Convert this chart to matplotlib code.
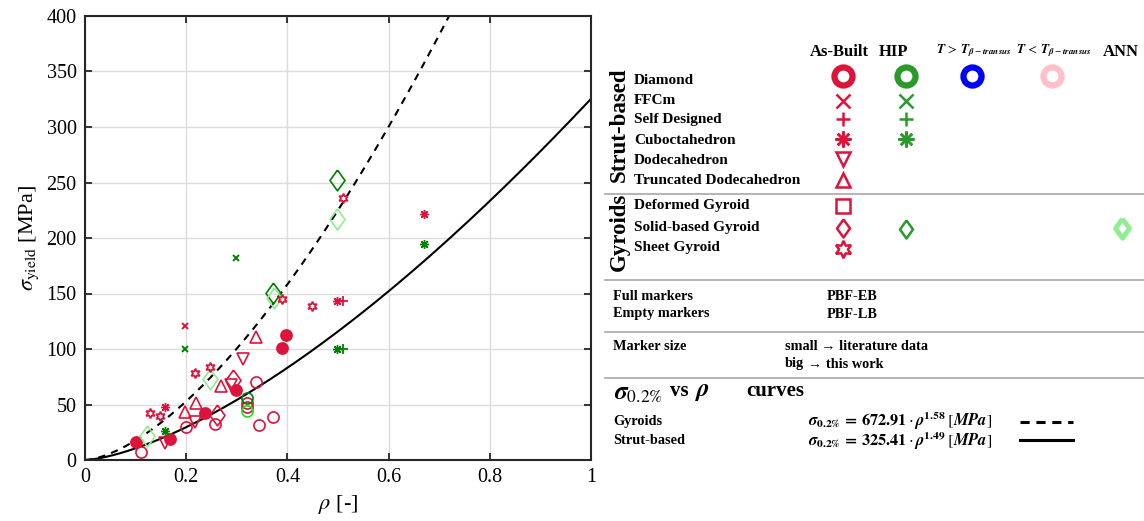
import numpy as np
import matplotlib as mpl

mpl.use('Agg')

import matplotlib.pyplot as plt

#
#--- fonts: times-like serif everywhere, stix for the math
#
plt.rcParams['font.family']      = ['Liberation Serif', 'DejaVu Serif']
plt.rcParams['mathtext.fontset'] = 'stix'

#
#--- colors
#
red    = '#DC143C'
green  = '#008000'
lgreen = '#90EE90'
lime   = '#22DD22'
lggrn  = '#2a9a2a'

#
#--- data (rho [-], sigma_yield [MPa])
#
dia_lb_rho   = [0.11, 0.20, 0.257, 0.338, 0.343, 0.372, 0.32, 0.32]
dia_lb_sig   = [7.5, 30.0, 32.0, 70.5, 31.5, 38.5, 51.0, 48.0]
dia_eb_rho   = [0.10, 0.168, 0.238, 0.298, 0.389, 0.398]
dia_eb_sig   = [16.5, 19.0, 42.5, 63.0, 101.0, 113.0]
dia_hip_rho  = [0.32]
dia_hip_sig  = [55.5]
dia_hip2_rho = [0.32]
dia_hip2_sig = [44.5]

ffc_ab_rho   = [0.198]
ffc_ab_sig   = [121.0]
ffc_hip_rho  = [0.198, 0.298]
ffc_hip_sig  = [100.0, 182.0]

self_ab_rho  = [0.509]
self_ab_sig  = [143.0]
self_hip_rho = [0.509]
self_hip_sig = [100.0]

cub_ab_rho   = [0.158, 0.499, 0.669]
cub_ab_sig   = [48.0, 143.0, 222.0]
cub_hip_rho  = [0.158, 0.499, 0.669]
cub_hip_sig  = [26.0, 100.0, 195.0]

dod_rho      = [0.158, 0.217, 0.289, 0.313]
dod_sig      = [15.0, 34.5, 68.0, 91.0]
tdod_rho     = [0.198, 0.219, 0.268, 0.338]
tdod_sig     = [43.5, 51.0, 67.0, 111.0]

sgy_ab_rho   = [0.261, 0.293]
sgy_ab_sig   = [40.5, 72.5]
sgy_hip_rho  = [0.372, 0.499]
sgy_hip_sig  = [150.5, 252.5]
sgy_ann_rho  = [0.123, 0.248, 0.374, 0.499]
sgy_ann_sig  = [21.5, 73.0, 146.0, 217.0]

shg_rho      = [0.128, 0.148, 0.217, 0.248, 0.390, 0.449, 0.509]
shg_sig      = [42.5, 39.5, 78.0, 84.0, 145.0, 139.0, 236.0]

#
#--- fitted power laws  sigma = c * rho^n
#
gyr_coef   = [672.91, 1.58]
strut_coef = [325.41, 1.49]

#
#--- custom markers
#
diamond  = [(0, 1), (0.72, 0), (0, -1), (-0.72, 0), (0, 1)]
asterisk = (8, 2, 0)
hexagram = (6, 1, 0)

#---------------------------------------------------------------------------------------------------
#-- draw_series: plot one marker series                                                          ---
#---------------------------------------------------------------------------------------------------

def draw_series(ax, x, y, marker, color, size, filled=False, lw=1.2):

    """
    plot one marker series
    Input:  ax      --- axes
            x, y    --- data
            marker  --- marker
            color   --- color
            size    --- marker size
            filled  --- fill the marker or not
    """

    if filled:
        face = color
    else:
        face = 'none'
    ax.plot(x, y, linestyle='none', marker=marker, markersize=size,
            markerfacecolor=face, markeredgecolor=color, markeredgewidth=lw)


#---------------------------------------------------------------------------------------------------
#-- main plot                                                                                    ---
#---------------------------------------------------------------------------------------------------

fig = plt.figure(figsize=(11.44, 5.21), dpi=100)
ax  = fig.add_axes([85 / 1144, 1 - 460 / 521, 506 / 1144, 444 / 521])

#
#--- fitted curves
#
rr = np.linspace(0, 1, 300)
ax.plot(rr, gyr_coef[0] * rr ** gyr_coef[1], color='black', lw=1.5, ls=(0, (3.5, 3)))
ax.plot(rr, strut_coef[0] * rr ** strut_coef[1], color='black', lw=1.5)

#
#--- data
#
draw_series(ax, dia_lb_rho, dia_lb_sig, 'o', red, 8)
draw_series(ax, dia_eb_rho, dia_eb_sig, 'o', red, 8, filled=True)
draw_series(ax, dia_hip_rho, dia_hip_sig, 'o', green, 8)
draw_series(ax, dia_hip2_rho, dia_hip2_sig, 'o', lime, 8)

draw_series(ax, ffc_ab_rho, ffc_ab_sig, 'x', red, 4.5, lw=1.4)
draw_series(ax, ffc_hip_rho, ffc_hip_sig, 'x', green, 4.5, lw=1.4)
draw_series(ax, self_ab_rho, self_ab_sig, '+', red, 7, lw=1.3)
draw_series(ax, self_hip_rho, self_hip_sig, '+', green, 7, lw=1.3)
draw_series(ax, cub_ab_rho, cub_ab_sig, asterisk, red, 6.5, lw=1.0)
draw_series(ax, cub_hip_rho, cub_hip_sig, asterisk, green, 6.5, lw=1.0)

draw_series(ax, dod_rho, dod_sig, 'v', red, 8.5)
draw_series(ax, tdod_rho, tdod_sig, '^', red, 8.5)

draw_series(ax, sgy_ab_rho, sgy_ab_sig, diamond, red, 15)
draw_series(ax, sgy_hip_rho, sgy_hip_sig, diamond, green, 15)
draw_series(ax, sgy_ann_rho, sgy_ann_sig, diamond, lgreen, 15)

draw_series(ax, shg_rho, shg_sig, hexagram, red, 7, lw=1.3)

#
#--- axes set up
#
ax.set_xlim(0, 1)
ax.set_ylim(0, 400)
ax.set_xticks(np.arange(0, 1.01, 0.2))
ax.set_xticklabels(['0', '0.2', '0.4', '0.6', '0.8', '1'])
ax.set_yticks(np.arange(0, 401, 50))
ax.grid(True, color='#dcdcdc', lw=1.0)
ax.set_axisbelow(True)
ax.tick_params(direction='in', top=True, right=True, length=5, width=1.3,
               labelsize=14.5, color='#262626', pad=6)
for sp in ax.spines.values():
    sp.set_linewidth(1.5)
    sp.set_color('#262626')

ax.set_xlabel(r'$\rho$ [-]', fontsize=16, labelpad=4)
ax.set_ylabel(r'$\sigma_{\rm yield}$ [MPa]', fontsize=16, labelpad=4)

#---------------------------------------------------------------------------------------------------
#-- legend panel: drawn in pixel coordinates                                                     ---
#---------------------------------------------------------------------------------------------------

lg = fig.add_axes([0, 0, 1, 1], facecolor='none')
lg.set_xlim(0, 1144)
lg.set_ylim(521, 0)
lg.axis('off')

bold = dict(fontweight='bold', va='center')

#
#--- column headers
#
lg.text(839, 52, 'As-Built', ha='center', fontsize=12, **bold)
lg.text(894, 52, 'HIP', ha='center', fontsize=12, **bold)
lg.text(974, 51, r'$\mathbfit{T}\,>\,\mathbfit{T}_{\mathbfit{\beta}-\mathbfit{transus}}$',
        ha='center', va='center', fontsize=9.5)
lg.text(1054, 51, r'$\mathbfit{T}\,<\,\mathbfit{T}_{\mathbfit{\beta}-\mathbfit{transus}}$',
        ha='center', va='center', fontsize=9.5)
lg.text(1121, 52, 'ANN', ha='center', fontsize=12, **bold)

#
#--- group labels
#
lg.text(619, 125, 'Strut-based', rotation=90, ha='center', fontsize=16.5, **bold)
lg.text(619, 232, 'Gyroids', rotation=90, ha='center', fontsize=16.5, **bold)

#
#--- rows
#
rows  = ['Diamond', 'FFCm', 'Self Designed', 'Cuboctahedron', 'Dodecahedron',
         'Truncated Dodecahedron', 'Deformed Gyroid', 'Solid-based Gyroid', 'Sheet Gyroid']
row_y = [80, 100, 120, 140, 160, 180, 206, 228, 248]
for name, yy in zip(rows, row_y):
    lg.text(634, yy, name, ha='left', fontsize=11, **bold)

col_x = {'ab': 843, 'hip': 906, 'hot': 972, 'cold': 1052, 'ann': 1122}

def leg_mark(col, yy, marker, color, size, mew=1.8):
    lg.plot([col_x[col]], [yy], linestyle='none', marker=marker, markersize=size,
            markerfacecolor='none', markeredgecolor=color, markeredgewidth=mew)

leg_mark('ab', 76, 'o', red, 13, mew=4.5)
leg_mark('hip', 76, 'o', lggrn, 13, mew=4.5)
leg_mark('hot', 76, 'o', 'blue', 13, mew=4.5)
leg_mark('cold', 76, 'o', 'pink', 13, mew=4.5)
leg_mark('ab', 101, 'x', red, 10.5)
leg_mark('hip', 101, 'x', lggrn, 10.5)
leg_mark('ab', 119, '+', red, 10.5)
leg_mark('hip', 119, '+', lggrn, 10.5)
leg_mark('ab', 139, asterisk, red, 11.5)
leg_mark('hip', 139, asterisk, lggrn, 11.5)
leg_mark('ab', 159, 'v', red, 10.5)
leg_mark('ab', 180, '^', red, 10.5)
leg_mark('ab', 206, 's', red, 9.5)
leg_mark('ab', 228, diamond, red, 13)
leg_mark('hip', 229, diamond, lggrn, 13)
leg_mark('ann', 228, diamond, lgreen, 14, mew=3.5)
leg_mark('ab', 249, hexagram, red, 12.5)

#
#--- separators
#
for yy in [194, 280, 332, 378]:
    lg.plot([605, 1144], [yy, yy], color='#a8a8a8', lw=1.2)

#
#--- process / size notes
#
lg.text(613, 297, 'Full markers', ha='left', fontsize=10.3, **bold)
lg.text(613, 314, 'Empty markers', ha='left', fontsize=10.3, **bold)
lg.text(827, 297, 'PBF-EB', ha='left', fontsize=10.3, **bold)
lg.text(827, 314, 'PBF-LB', ha='left', fontsize=10.3, **bold)
lg.text(613, 346, 'Marker size', ha='left', fontsize=10.3, **bold)
lg.text(785, 346, 'small \u2192 literature data', ha='left', fontsize=10.3, **bold)
lg.text(785, 364, 'big', ha='left', fontsize=10.3, **bold)
lg.text(808, 364, '\u2192 this work', ha='left', fontsize=10.3, **bold)

#
#--- curve notes
#
lg.text(614, 394, r'$\mathbfit{\sigma}_{0.2\%}$', ha='left', va='center', fontsize=18)
lg.text(670, 391, 'vs', ha='left', fontsize=15, **bold)
lg.text(694, 392, r'$\mathbfit{\rho}$', ha='left', va='center', fontsize=18)
lg.text(746, 391, 'curves', ha='left', fontsize=15, **bold)
lg.text(613, 422, 'Gyroids', ha='left', fontsize=10.3, **bold)
lg.text(613, 440, 'Strut-based', ha='left', fontsize=10.3, **bold)
lg.text(808, 421, r'$\mathbfit{\sigma}_{\mathbf{0.2\%}}\,\mathbf{=}\,\mathbf{672.91}\cdot\mathbfit{\rho}^{\mathbf{1.58}}\;[\mathbfit{MPa}]$',
        ha='left', va='center', fontsize=11.8)
lg.text(808, 441, r'$\mathbfit{\sigma}_{\mathbf{0.2\%}}\,\mathbf{=}\,\mathbf{325.41}\cdot\mathbfit{\rho}^{\mathbf{1.49}}\;[\mathbfit{MPa}]$',
        ha='left', va='center', fontsize=11.8)
lg.plot([1020, 1073], [422, 422], color='black', lw=2.2, ls=(0, (3, 2.2)))
lg.plot([1020, 1073], [440, 440], color='black', lw=2.2)

plt.savefig('out.png', dpi=100)
